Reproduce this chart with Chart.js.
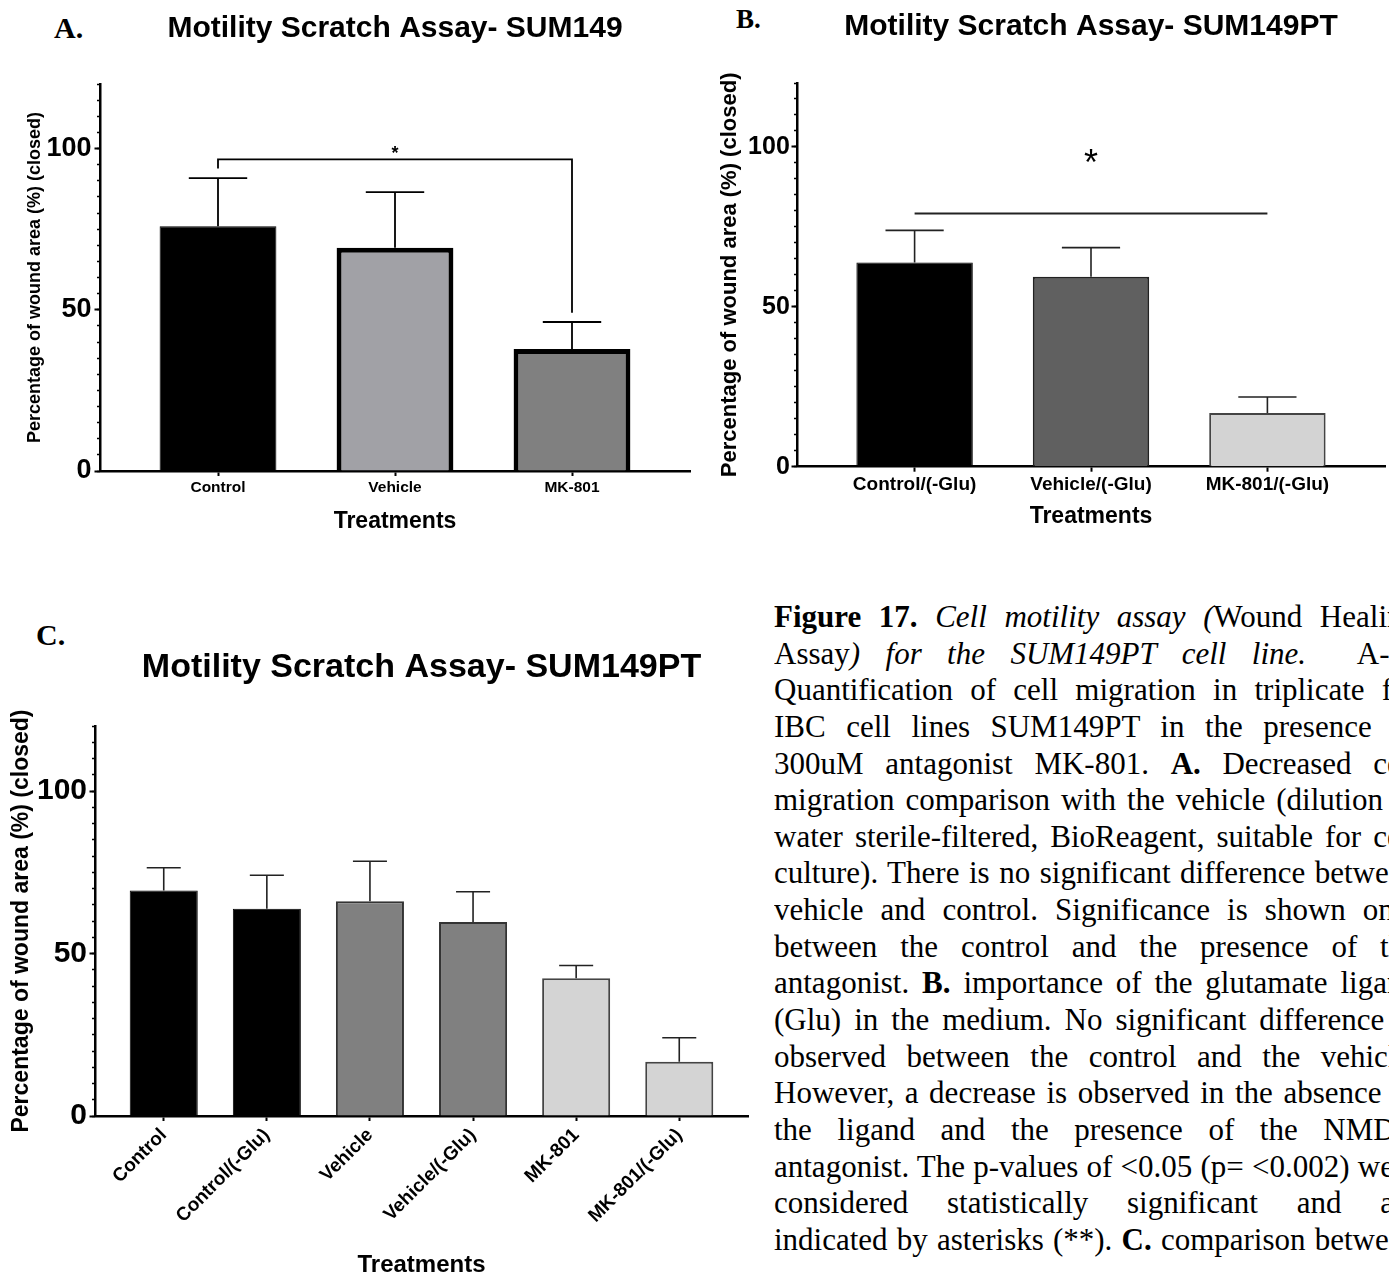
<!DOCTYPE html>
<html><head><meta charset="utf-8">
<script src="https://cdn.jsdelivr.net/npm/chart.js@4.4.1/dist/chart.umd.min.js"></script>
<style>
html,body{margin:0;padding:0;background:#fff;}
body{width:1389px;height:1272px;overflow:hidden;position:relative;}
.panel{position:absolute;font-family:"Liberation Serif","Times New Roman",serif;font-weight:bold;color:#000;line-height:1;white-space:nowrap;}
canvas{position:absolute;}
#caption{position:absolute;left:774px;top:599px;font-family:"Liberation Serif","Times New Roman",serif;font-size:31px;color:#000;}
#caption div{width:644px;height:36.65px;line-height:36.65px;text-align:justify;text-align-last:justify;overflow:hidden;}
</style></head>
<body>
<div class="panel" style="left:54px;top:13px;font-size:30px">A.</div>
<div class="panel" style="left:736px;top:6px;font-size:27px">B.</div>
<div class="panel" style="left:36px;top:620px;font-size:30px">C.</div>

<canvas id="cA" width="700" height="540" style="left:0;top:0"></canvas>
<canvas id="cB" width="689" height="540" style="left:700px;top:0"></canvas>
<canvas id="cC" width="760" height="700" style="left:0;top:590px"></canvas>

<div id="caption">
<div><b>Figure 17.</b> <i>Cell motility assay (</i>Wound Healing</div>
<div>Assay<i>) for the SUM149PT cell line.</i> &nbsp;A-C.</div>
<div>Quantification of cell migration in triplicate for</div>
<div>IBC cell lines SUM149PT in the presence of</div>
<div>300uM antagonist MK-801. <b>A.</b> Decreased cell</div>
<div>migration comparison with the vehicle (dilution in</div>
<div>water sterile-filtered, BioReagent, suitable for cell</div>
<div>culture). There is no significant difference between</div>
<div>vehicle and control. Significance is shown only</div>
<div>between the control and the presence of the</div>
<div>antagonist. <b>B.</b> importance of the glutamate ligand</div>
<div>(Glu) in the medium. No significant difference is</div>
<div>observed between the control and the vehicle.</div>
<div>However, a decrease is observed in the absence of</div>
<div>the ligand and the presence of the NMDA</div>
<div>antagonist. The p-values of &lt;0.05 (p= &lt;0.002) were</div>
<div>considered statistically significant and are</div>
<div>indicated by asterisks (**). <b>C.</b> comparison between</div>
</div>

<script>
// ---------- data ----------
const catsA = ['Control', 'Vehicle', 'MK-801'];
const meanA = [75.9, 69.2, 37.8];
const semA  = [14.9, 17.3, 8.4];

const catsB = ['Control/(-Glu)', 'Vehicle/(-Glu)', 'MK-801/(-Glu)'];
const meanB = [63.9, 59.4, 16.8];
const semB  = [10.0, 9.1, 5.0];

const catsC = ['Control', 'Control/(-Glu)', 'Vehicle', 'Vehicle/(-Glu)', 'MK-801', 'MK-801/(-Glu)'];
const meanC = [69.4, 63.8, 66.1, 59.7, 42.4, 16.7];
const semC  = [7.0, 10.3, 12.3, 9.3, 3.9, 7.4];

const yMin = 0, yMax = 120, yMajorStep = 50, yMinorStep = 5;

// significance annotations (values in data units)
const sigA = {from: 1, to: 3, y: 96.6, dropFrom: 93.8, dropTo: 49.1, star: '*', starY: 98.2};
const sigB = {from: 1, to: 3, y: 79.2, dropFrom: 79.2, dropTo: 79.2, star: '*', starY: 94.3};

// ---------- fonts ----------
function hasFont(name) {
  const c = document.createElement('canvas').getContext('2d');
  c.font = 'bold 72px monospace';
  const w0 = c.measureText('Treatments 0123').width;
  c.font = 'bold 72px "' + name + '", monospace';
  const w1 = c.measureText('Treatments 0123').width;
  return Math.abs(w0 - w1) > 1;
}
const SANS = '"Liberation Sans", Arial, Helvetica, sans-serif';
const NARROW = hasFont('Liberation Sans Narrow');
const NFAM = NARROW ? '"Liberation Sans Narrow", ' + SANS : SANS;
const ns = s => NARROW ? s : Math.round(s * 0.84);

// ---------- plugins ----------
const errPlugin = {
  id: 'errbars',
  afterDatasetsDraw(chart, args, o) {
    const meta = chart.getDatasetMeta(0), ys = chart.scales.y, ctx = chart.ctx;
    const ds = chart.data.datasets[0];
    ctx.save();
    ctx.strokeStyle = o.color; ctx.lineWidth = o.width; ctx.lineCap = 'butt';
    meta.data.forEach((el, i) => {
      const top = ys.getPixelForValue(ds.data[i].y + o.sems[i]);
      const half = el.width * o.cap / 2;
      ctx.beginPath();
      ctx.moveTo(el.x, el.y); ctx.lineTo(el.x, top);
      ctx.moveTo(el.x - half, top); ctx.lineTo(el.x + half, top);
      ctx.stroke();
    });
    ctx.restore();
  }
};
const sigPlugin = {
  id: 'sig',
  afterDatasetsDraw(chart, args, o) {
    if (!o || !o.show) return;
    const xs = chart.scales.x, ys = chart.scales.y, ctx = chart.ctx;
    const x1 = xs.getPixelForValue(o.from), x2 = xs.getPixelForValue(o.to), y = ys.getPixelForValue(o.y);
    ctx.save();
    ctx.strokeStyle = o.color; ctx.lineWidth = o.width;
    ctx.beginPath();
    ctx.moveTo(x1, ys.getPixelForValue(o.dropFrom)); ctx.lineTo(x1, y);
    ctx.lineTo(x2, y); ctx.lineTo(x2, ys.getPixelForValue(o.dropTo));
    ctx.stroke();
    ctx.fillStyle = '#000'; ctx.font = o.font; ctx.textAlign = 'center'; ctx.textBaseline = 'middle';
    ctx.fillText(o.star, xs.getPixelForValue((o.from + o.to) / 2), ys.getPixelForValue(o.starY));
    ctx.restore();
  }
};

// ---------- builder ----------
function build(id, p) {
  const n = p.cats.length;
  const data = p.cats.map((c, i) => ({x: i + 1, y: p.means[i]}));
  return new Chart(document.getElementById(id), {
    type: 'bar',
    data: {datasets: [{
      data, backgroundColor: p.fill, borderColor: p.stroke, borderWidth: p.strokeW,
      borderSkipped: 'start', barPercentage: 0.66, categoryPercentage: 1
    }]},
    options: {
      responsive: false, animation: false, devicePixelRatio: 1,
      layout: {padding: {left: 0, right: p.padRight, top: 0, bottom: 0}},
      plugins: {
        legend: {display: false}, tooltip: {enabled: false},
        title: {display: true, text: p.title, fullSize: false, color: '#000',
          font: {family: SANS, size: p.titleSize, weight: 'bold', lineHeight: 1.2},
          padding: {top: p.titleTop, bottom: p.titleBottom}},
        errbars: {color: p.errColor, width: p.errW, cap: 0.5, sems: p.sems},
        sig: p.sig ? Object.assign({show: true, color: p.errColor, width: p.sigW, font: p.starFont}, p.sig) : {show: false}
      },
      scales: {
        x: {
          type: 'linear', min: 1 / 3, max: n + 2 / 3, z: 1, offset: false, bounds: 'data',
          afterBuildTicks: s => { s.ticks = p.cats.map((c, i) => ({value: i + 1})); },
          afterFit: s => { s.height = p.xAxisH; },
          ticks: {callback: v => p.cats[Math.round(v) - 1], color: '#000', autoSkip: false,
            font: {family: SANS, size: p.xTickSize, weight: 'bold', lineHeight: 1.2},
            padding: p.xTickPad, maxRotation: p.rot, minRotation: p.rot},
          grid: {offset: false, drawOnChartArea: false, tickLength: 5, tickWidth: 2, tickColor: '#000'},
          border: {color: '#000', width: 2.5},
          title: {display: true, text: 'Treatments', color: '#000',
            font: {family: NFAM, size: ns(p.xTitleSize), weight: 'bold', lineHeight: 1.2},
            padding: {top: 0, bottom: p.xTitleBottom}}
        },
        y: {
          type: 'linear', position: 'left', weight: 1, min: yMin, max: yMax, z: 1,
          afterFit: s => { s.width = p.yAxisW; },
          ticks: {stepSize: yMajorStep, includeBounds: false, color: '#000', padding: p.yTickPad,
            font: {family: p.yTickFam, size: p.yTickSize, weight: 'bold', lineHeight: 1.2}},
          grid: {drawOnChartArea: false, tickLength: 5.5, tickWidth: 2, tickColor: '#000'},
          border: {color: '#000', width: 2.5},
          title: {display: true, text: 'Percentage of wound area (%) (closed)', color: '#000',
            font: {family: SANS, size: p.yTitleSize, weight: 'bold', lineHeight: 1.2},
            padding: {top: p.yTitlePad, bottom: 0}}
        },
        yMinor: {
          type: 'linear', position: 'left', weight: 0, min: yMin, max: yMax, z: 1,
          afterFit: s => { s.width = 0; },
          ticks: {stepSize: yMinorStep, display: false},
          grid: {drawOnChartArea: false, tickLength: 3, tickWidth: 1.5, tickColor: '#000'},
          border: {display: false}
        }
      }
    },
    plugins: [errPlugin, sigPlugin]
  });
}

build('cA', {
  cats: catsA, means: meanA, sems: semA,
  fill: ['#000000', '#a1a1a6', '#808080'], stroke: ['#000', '#000', '#000'], strokeW: [1, 5, 5],
  title: 'Motility Scratch Assay- SUM149', titleSize: 30, titleTop: 10.5, titleBottom: 37.5,
  padRight: 10, yAxisW: 100, xAxisH: 69,
  yTickFam: NFAM, yTickSize: ns(32), yTickPad: 3, yTitleSize: 18, yTitlePad: 24.7,
  xTickSize: 15.5, xTickPad: 2, rot: 0, xTitleSize: 27, xTitleBottom: 4.8,
  errColor: '#000', errW: 1.8, sigW: 1.8, starFont: 'bold 18px ' + SANS, sig: sigA
});

build('cB', {
  cats: catsB, means: meanB, sems: semB,
  fill: ['#000000', '#606060', '#d3d3d3'], stroke: ['#000', '#222', '#444'], strokeW: [1, 2, 2],
  title: 'Motility Scratch Assay- SUM149PT', titleSize: 30, titleTop: 9, titleBottom: 38,
  padRight: 4, yAxisW: 97, xAxisH: 73.3,
  yTickFam: SANS, yTickSize: 25, yTickPad: 1.7, yTitleSize: 22, yTitlePad: 16.8,
  xTickSize: 19, xTickPad: 2, rot: 0, xTitleSize: 27, xTitleBottom: 10,
  errColor: '#222', errW: 1.6, sigW: 2, starFont: '36px ' + SANS, sig: sigB
});

build('cC', {
  cats: catsC, means: meanC, sems: semC,
  fill: ['#000000', '#000000', '#808080', '#808080', '#d4d4d4', '#d4d4d4'],
  stroke: ['#000', '#000', '#333', '#333', '#444', '#444'], strokeW: [1, 1, 2, 2, 2, 2],
  title: 'Motility Scratch Assay- SUM149PT', titleSize: 34, titleTop: 57.2, titleBottom: 38,
  padRight: 12, yAxisW: 95, xAxisH: 174,
  yTickFam: SANS, yTickSize: 30, yTickPad: 2.5, yTitleSize: 23, yTitlePad: 8.2,
  xTickSize: 19, xTickPad: 3, rot: 45, xTitleSize: 29, xTitleBottom: 10.6,
  errColor: '#222', errW: 1.6, sigW: 2, starFont: '', sig: null
});
</script>
</body></html>
